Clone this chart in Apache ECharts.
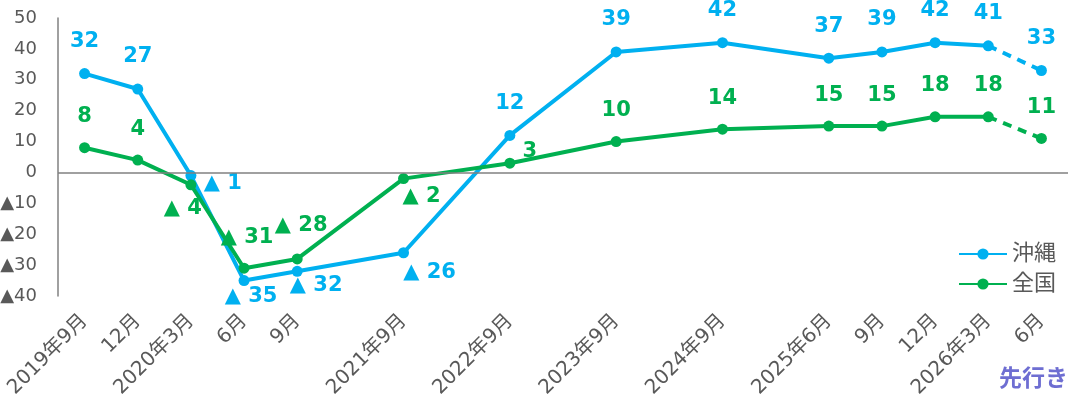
<!DOCTYPE html>
<html>
<head>
<meta charset="utf-8">
<script src="https://cdn.jsdelivr.net/npm/echarts@6/dist/echarts.min.js"></script>
<style>
html,body{margin:0;padding:0;background:#fff;}
#chart{width:1077px;height:404px;}
</style>
</head>
<body>
<div id="chart"></div>
<script>
// ---- data ----
const categories = ['2019年9月','12月','2020年3月','6月','9月','','2021年9月','','2022年9月','','2023年9月','','2024年9月','','2025年6月','9月','12月','2026年3月','6月'];
const okinawa = [32,27,-1,-35,-32,null,-26,null,12,null,39,null,42,null,37,39,42,41,33];
const zenkoku = [8,4,-4,-31,-28,null,-2,null,3,null,10,null,14,null,15,15,18,18,11];
const seriesNames = ['沖縄','全国'];
const forecastStart = 17; // index where 先行き (dashed) begins
const yTicks = {min:-40, max:50, interval:10};
const noteText = '先行き';

// ---- styles ----
const FONT = "'DejaVu Sans','Noto Sans CJK JP',sans-serif";
const BLUE = '#00B0F0', GREEN = '#00B050';
const okiOffsets = {2:[32,8],3:[7,16],4:[19,14],6:[26,20]};
const zenOffsets = {2:[-8,24],3:[3,-31],4:[4,-33],6:[18,18],8:[20,-12]};
const fmt = v => v < 0 ? '▲ ' + Math.abs(v) : String(v);

function buildSolid(values, offsets, defOff){
  return values.map((v,i)=>{
    if (i > forecastStart || v === null) return null;
    return {value:v, label:{offset: offsets[i] || defOff}};
  });
}
function buildDash(values, defOff){
  return values.map((v,i)=>{
    if (i < forecastStart) return null;
    if (i === forecastStart) return {value:v, symbol:'none', label:{show:false}};
    return {value:v, label:{offset:defOff}};
  });
}
function labelCfg(color){
  return {show:true, position:'inside', align:'center', verticalAlign:'middle',
    color:color, fontSize:21, fontWeight:'bold', fontFamily:FONT,
    formatter: p => fmt(p.value)};
}

const chart = echarts.init(document.getElementById('chart'), null, {renderer:'canvas'});
chart.setOption({
  animation:false,
  backgroundColor:'#ffffff',
  grid:{left:58, right:9, top:18, bottom:108, containLabel:false, outerBoundsMode:'none'},
  legend:{
    data:seriesNames, orient:'vertical', left:953, top:238,
    itemWidth:48, itemHeight:14, itemGap:8,
    textStyle:{fontSize:22, color:'#595959', fontFamily:FONT}
  },
  xAxis:{
    type:'category', data:categories, boundaryGap:true,
    axisLine:{show:false}, axisTick:{show:false},
    axisLabel:{rotate:45, interval:0, fontSize:20, color:'#595959', fontFamily:FONT, margin:22}
  },
  yAxis:{
    type:'value', min:yTicks.min, max:yTicks.max, interval:yTicks.interval,
    axisLine:{show:true, lineStyle:{color:'#808080', width:1.5}},
    axisTick:{show:false}, splitLine:{show:false},
    axisLabel:{fontSize:18, color:'#595959', fontFamily:FONT, margin:21,
      formatter: v => v < 0 ? '▲' + Math.abs(v) : String(v)}
  },
  graphic:[{type:'text', left:999, top:369,
    style:{text:noteText, fontSize:23, fontWeight:'bold', fill:'#6E6ED2', fontFamily:FONT}}],
  series:[
    {name:seriesNames[0], type:'line', data:buildSolid(okinawa, okiOffsets, [0,-32]),
     connectNulls:true, symbol:'circle', symbolSize:11, z:3,
     itemStyle:{color:BLUE}, lineStyle:{color:BLUE, width:4},
     label:labelCfg(BLUE),
     markLine:{silent:true, symbol:'none', label:{show:false},
       lineStyle:{color:'#808080', width:1.5, type:'solid'}, data:[{yAxis:0}]}},
    {name:seriesNames[1], type:'line', data:buildSolid(zenkoku, zenOffsets, [0,-31]),
     connectNulls:true, symbol:'circle', symbolSize:11, z:4,
     itemStyle:{color:GREEN}, lineStyle:{color:GREEN, width:4},
     label:labelCfg(GREEN)},
    {name:seriesNames[0]+'(先行き)', type:'line', data:buildDash(okinawa, [0,-32]),
     symbol:'circle', symbolSize:11, z:3,
     itemStyle:{color:BLUE}, lineStyle:{color:BLUE, width:4, type:[9,7]},
     label:labelCfg(BLUE)},
    {name:seriesNames[1]+'(先行き)', type:'line', data:buildDash(zenkoku, [0,-31]),
     symbol:'circle', symbolSize:11, z:4,
     itemStyle:{color:GREEN}, lineStyle:{color:GREEN, width:4, type:[9,7]},
     label:labelCfg(GREEN)}
  ]
});
</script>
</body>
</html>
